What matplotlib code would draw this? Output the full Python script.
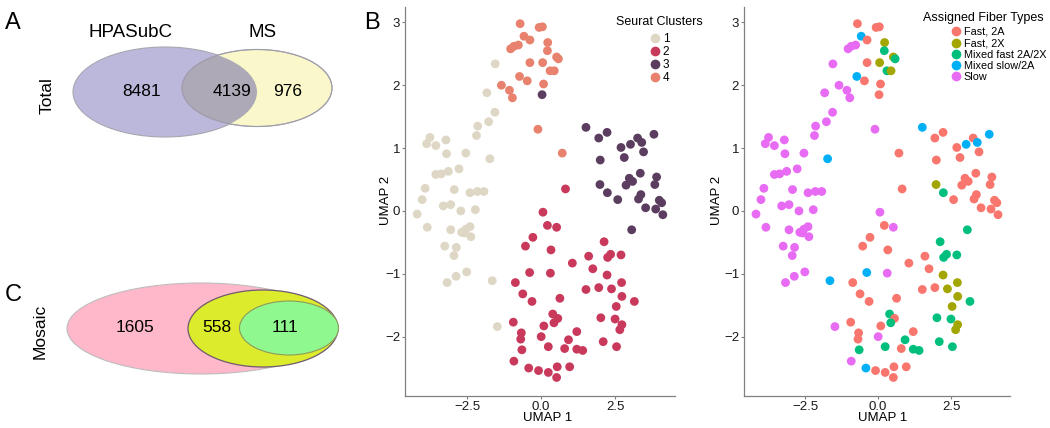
import matplotlib
matplotlib.use('Agg')
import matplotlib.pyplot as plt
from matplotlib.patches import Ellipse
from matplotlib.lines import Line2D

plt.rcParams['font.family'] = ['Liberation Sans', 'DejaVu Sans']

# ---------------- data ----------------
venn_total_sets = ['HPASubC', 'MS']
venn_total_counts = [8481, 4139, 976]      # HPASubC only, both, MS only
venn_mosaic_counts = [1605, 558, 111]      # outer, middle, inner

cluster_names = ['1', '2', '3', '4']
cluster_colors = ['#DFD7C5', '#C8395B', '#5B3D5F', '#E8826E']
fiber_names = ['Fast, 2A', 'Fast, 2X', 'Mixed fast 2A/2X', 'Mixed slow/2A', 'Slow']
fiber_colors = ['#F8766D', '#A3A500', '#00BF7D', '#00B0F6', '#E76BF3']

# Seurat cluster 1
c1_x = [-1.55, -1.83, -1.56, -1.77, -2.14, -2.18, -3.75, -3.86, -3.55, -3.21, -3.19, -2.54, -1.73, -2.77, -3.13,
        -3.37, -3.55, -3.91, -4.01, -4.18, -2.93, -3.05, -3.30, -2.40, -2.15, -1.93, -2.71, -2.22, -3.84, -2.54,
        -2.40, -2.37, -2.68, -2.59, -3.05, -3.25, -2.86, -2.94, -2.51, -2.87, -3.17, -1.65, -1.48]
c1_y = [2.34, 1.88, 1.57, 1.42, 1.35, 1.20, 1.17, 1.07, 1.04, 1.13, 0.91, 0.92, 0.83, 0.67, 0.63,
        0.59, 0.58, 0.36, 0.18, -0.05, 0.34, 0.10, 0.08, 0.29, 0.31, 0.31, 0.00, 0.02, -0.26, -0.29,
        -0.25, -0.41, -0.34, -0.35, -0.30, -0.56, -0.58, -0.71, -0.97, -1.04, -1.14, -1.11, -1.84]
c1_fiber = [4, 4, 4, 4, 4, 4, 4, 4, 4, 4, 4, 4, 3, 4, 4,
            4, 4, 4, 4, 4, 4, 4, 4, 4, 4, 4, 4, 4, 4, 4,
            4, 4, 4, 4, 4, 4, 4, 4, 4, 4, 4, 3, 4]

# Seurat cluster 2
c2_x = [0.06, 0.82, 0.21, 0.52, -0.28, -0.53, 0.33, 2.12, 2.34, 2.24, 2.69, 1.60, 1.05, 1.74, -0.39,
        0.31, 2.22, -0.87, 2.71, 1.51, 1.94, 2.37, -0.62, 2.72, -0.31, 0.63, 3.14, 2.53, 0.39, 0.56,
        0.43, 2.01, 2.49, -0.94, 0.09, 2.72, 2.65, -0.67, -0.69, 0.00, 1.20, 0.92, 2.09, 0.24, 0.79,
        -0.65, 1.20, 1.40, 2.54, -0.92, -0.42, -0.09, 0.24, 0.54, 0.52, 0.96]
c2_y = [-0.02, 0.35, -0.23, -0.26, -0.42, -0.56, -0.62, -0.49, -0.69, -0.74, -0.70, -0.72, -0.83, -0.92, -0.98,
        -0.99, -1.02, -1.14, -1.14, -1.25, -1.22, -1.24, -1.32, -1.36, -1.44, -1.39, -1.44, -1.52, -1.64, -1.71,
        -1.78, -1.70, -1.72, -1.77, -1.83, -1.81, -1.89, -1.94, -2.04, -2.00, -1.92, -2.05, -2.08, -2.16, -2.19,
        -2.21, -2.20, -2.22, -2.16, -2.39, -2.50, -2.54, -2.57, -2.48, -2.65, -2.48]
c2_fiber = [4, 0, 0, 4, 0, 0, 0, 2, 2, 2, 2, 0, 0, 0, 3,
            4, 1, 0, 1, 0, 0, 1, 0, 1, 0, 0, 2, 1, 2, 0,
            2, 2, 2, 0, 0, 1, 1, 0, 0, 4, 0, 2, 2, 2, 0,
            2, 2, 2, 2, 4, 3, 0, 0, 0, 0, 0]

# Seurat cluster 3
c3_x = [0.03, 1.51, 1.94, 2.22, 2.69, 3.01, 3.25, 3.39, 3.80, 1.99, 2.80, 3.45, 2.97, 3.08, 3.34,
        3.89, 1.98, 2.86, 3.83, 2.23, 2.58, 3.36, 3.28, 3.52, 3.86, 3.98, 4.06, 4.10, 3.05]
c3_y = [1.85, 1.33, 1.16, 1.25, 1.01, 1.06, 1.16, 1.09, 1.22, 0.81, 0.85, 0.94, 0.52, 0.47, 0.60,
        0.54, 0.42, 0.41, 0.42, 0.29, 0.18, 0.26, 0.19, 0.05, 0.03, 0.17, 0.13, -0.06, -0.30]
c3_fiber = [0, 3, 0, 0, 0, 3, 0, 3, 3, 0, 0, 0, 0, 0, 0,
            0, 1, 0, 0, 2, 0, 0, 0, 0, 0, 0, 0, 0, 2]

# Seurat cluster 4
c4_x = [-0.71, -0.07, 0.04, -0.58, -0.38, 0.22, -0.77, -0.92, -1.03, 0.21, 0.52, 0.58, -0.38, 0.05, 0.30,
        0.44, -0.73, -0.47, 0.08, -1.34, -1.07, -0.97, -0.11, 0.71]
c4_y = [2.98, 2.92, 2.93, 2.78, 2.72, 2.68, 2.64, 2.62, 2.58, 2.55, 2.45, 2.42, 2.36, 2.36, 2.23,
        2.23, 2.14, 2.07, 2.02, 2.00, 1.92, 1.80, 1.30, 0.92]
c4_fiber = [0, 0, 0, 3, 0, 1, 4, 4, 4, 2, 1, 2, 0, 1, 2,
            1, 3, 0, 0, 4, 4, 4, 4, 0]

xticks = [-2.5, 0.0, 2.5]
yticks = [-2, -1, 0, 1, 2, 3]

# ---------------- figure ----------------
W, H = 1050, 428
fig = plt.figure(figsize=(W / 100, H / 100), dpi=100)

def fx(px):
    return px / W

def fy(py):
    return 1 - py / H

# ---- Venn panels (A and C), drawn in pixel units ----
av = fig.add_axes([0, 0, 360 / W, 1])
av.set_xlim(0, 360)
av.set_ylim(H, 0)
av.axis('off')

e_h = Ellipse((165, 92), 184, 90, facecolor='#BCB8DC', edgecolor='#A7A7B0', lw=0.8)
e_m = Ellipse((257, 88), 150, 77, facecolor='#FAF8CA', edgecolor='#B4B4A8', lw=0.8)
av.add_patch(e_h)
av.add_patch(e_m)
e_int = Ellipse((165, 92), 184, 90, facecolor='#ADA9B7', edgecolor='none')
av.add_patch(e_int)
e_int.set_clip_path(e_m)
e_m2 = Ellipse((257, 88), 150, 77, facecolor='none', edgecolor='#9E9AAE', lw=0.8)
av.add_patch(e_m2)

av.text(13, 23, 'A', fontsize=17, ha='center', va='center')
av.text(130, 32, venn_total_sets[0], fontsize=13.5, ha='center', va='center')
av.text(263, 32, venn_total_sets[1], fontsize=13.5, ha='center', va='center')
av.text(47, 96, 'Total', fontsize=12.5, rotation=90, ha='center', va='center')
for pos, val in zip([(142, 91), (232, 91), (288, 91)], venn_total_counts):
    av.text(pos[0], pos[1], str(val), fontsize=12.5, ha='center', va='center')

p1 = Ellipse((201, 328.5), 268, 91, facecolor='#FFB7CA', edgecolor='#BDBDBD', lw=0.8)
p2 = Ellipse((263, 328.5), 150, 77, facecolor='#DCEC2C', edgecolor='#6E5A6E', lw=0.9)
p3 = Ellipse((289, 328), 99, 54, facecolor='#8FF88E', edgecolor='#8E9A5A', lw=0.8)
for p in (p1, p2, p3):
    av.add_patch(p)

av.text(13, 295, 'C', fontsize=17, ha='center', va='center')
av.text(40, 331, 'Mosaic', fontsize=12.5, rotation=90, ha='center', va='center')
for pos, val in zip([(135, 328), (217, 328), (285, 328)], venn_mosaic_counts):
    av.text(pos[0], pos[1], str(val), fontsize=12.5, ha='center', va='center')

fig.text(fx(372), fy(23), 'B', fontsize=17, ha='center', va='center')

# ---- UMAP panels ----
groups = [(c1_x, c1_y, c1_fiber), (c2_x, c2_y, c2_fiber), (c3_x, c3_y, c3_fiber), (c4_x, c4_y, c4_fiber)]
msize = 40

def style(ax, xlab_x, ylab_x):
    ax.set_xlim(-4.59, 4.51)
    ax.set_ylim(-2.94, 3.25)
    ax.set_xticks(xticks)
    ax.set_xticklabels(['%.1f' % t if t >= 0 else '\u2212%.1f' % -t for t in xticks])
    ax.set_yticks(yticks)
    ax.set_yticklabels([str(t) if t >= 0 else '\u2212%d' % -t for t in yticks])
    for s in ('top', 'right'):
        ax.spines[s].set_visible(False)
    for s in ('left', 'bottom'):
        ax.spines[s].set_color('#808080')
        ax.spines[s].set_linewidth(0.9)
    ax.tick_params(length=2.5, width=0.8, color='#808080', labelsize=9.5, pad=1, labelcolor='#1a1a1a')
    ax.text(xlab_x, -0.057, 'UMAP 1', fontsize=9.5, ha='center', va='center', transform=ax.transAxes)
    ax.text(ylab_x, 0.503, 'UMAP 2', fontsize=9.5, rotation=90, ha='center', va='center',
            transform=ax.transAxes)

ax1 = fig.add_axes([fx(405), fy(395.7), 270 / W, 389 / H])
for gi, (gx, gy, gf) in enumerate(groups):
    ax1.scatter(gx, gy, s=msize, color=cluster_colors[gi], edgecolors='none', zorder=3)
style(ax1, 0.53, -0.072)

ax2 = fig.add_axes([fx(744), fy(395.7), 266 / W, 389 / H])
for gx, gy, gf in groups:
    ax2.scatter(gx, gy, s=msize, c=[fiber_colors[f] for f in gf], edgecolors='none', zorder=3)
style(ax2, 0.523, -0.10)

# ---- legends ----
fig.text(fx(659.5), fy(21.7), 'Seurat Clusters', fontsize=9, ha='center', va='center')
h1 = [Line2D([], [], ls='none', marker='o', markersize=7, markerfacecolor=c, markeredgecolor='none')
      for c in cluster_colors]
fig.legend(h1, cluster_names, loc='upper left', bbox_to_anchor=(fx(650.5), fy(33)),
           frameon=False, fontsize=8.5, handlelength=0.8, handletextpad=0.25, labelspacing=0.08,
           borderpad=0, borderaxespad=0)

fig.text(fx(983), fy(18.3), 'Assigned Fiber Types', fontsize=9, ha='center', va='center')
h2 = [Line2D([], [], ls='none', marker='o', markersize=7, markerfacecolor=c, markeredgecolor='none')
      for c in fiber_colors]
fig.legend(h2, fiber_names, loc='upper left', bbox_to_anchor=(fx(952), fy(27)),
           frameon=False, fontsize=7.8, handlelength=0.8, handletextpad=0.3, labelspacing=0.12,
           borderpad=0, borderaxespad=0)

fig.savefig('out.png', dpi=100)
